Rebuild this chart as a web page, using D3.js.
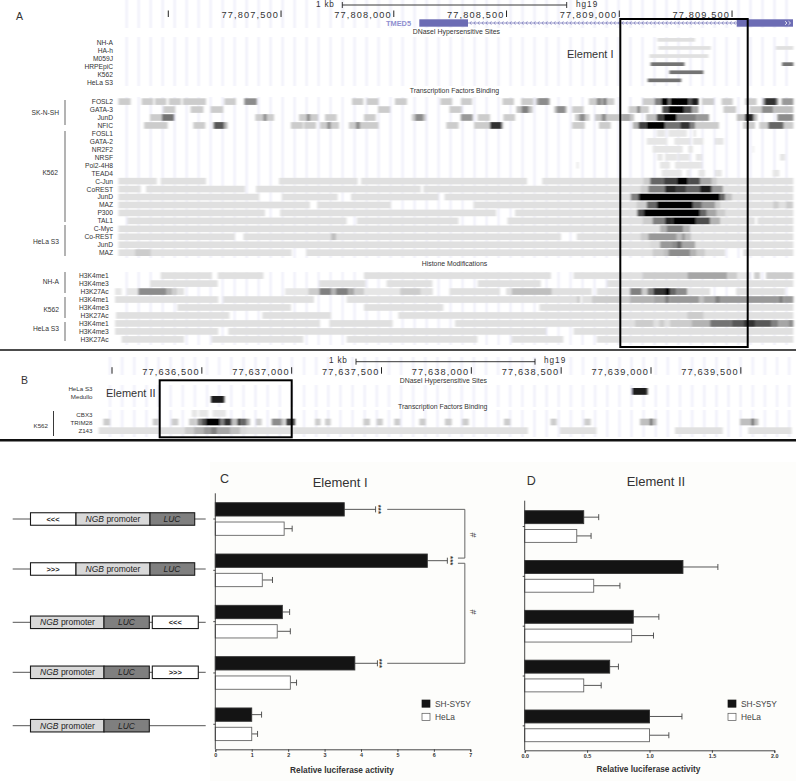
<!DOCTYPE html>
<html>
<head>
<meta charset="utf-8">
<script src="https://cdn.jsdelivr.net/npm/d3@7"></script>
<style>
  html, body { margin: 0; padding: 0; background: #fff; }
  svg { display: block; }
  text { font-family: "Liberation Sans", Arial, sans-serif; }
</style>
</head>
<body>
<svg id="chart" width="796" height="781"></svg>
<script>
'use strict';

// Browser tracks: segments are [start, end, score], start/end in bp from the window start
const windowA = 77806777;
const windowB = 77636000;
const ticksA = [77807000, 77807500, 77808000, 77808500, 77809000, 77809500];
const ticksB = [77636000, 77636500, 77637000, 77637500, 77638000, 77638500, 77639000, 77639500];

const dnaseLabels = ['NH-A', 'HA-h', 'M059J', 'HRPEpiC', 'K562', 'HeLa S3'];
const dnaseTracks = [
  [[2392, 2559, 0.12]],
  [[2396, 2629, 0.12], [2918, 2995, 0.12]],
  [[2357, 2618, 0.12]],
  [[2362, 2512, 0.55], [2945, 2995, 0.55]],
  [[2445, 2596, 0.55]],
  [[2349, 2498, 0.55]]
];

const tfLabels = ['FOSL2', 'GATA-3', 'JunD', 'NFIC', 'FOSL1', 'GATA-2', 'NR2F2', 'NRSF', 'Pol2-4H8', 'TEAD4',
  'C-Jun', 'CoREST', 'JunD', 'MAZ', 'P300', 'TAL1', 'C-Myc', 'Co-REST', 'JunD', 'MAZ'];

const fosl2 = [[2, 56, .2], [105, 157, .2], [164, 215, .2], [225, 280, .2], [287, 390, .2], [472, 523, .2], [560, 616, .45],
  [1038, 1088, .2], [1103, 1155, .2], [1228, 1281, .2], [1430, 1482, .2], [1521, 1570, .2], [1705, 1756, .2], [1788, 1842, .2],
  [1854, 1915, .3], [1864, 1909, .45], [2088, 2201, .2], [2123, 2145, .45], [2150, 2167, .5], [2327, 2380, .2], [2380, 2410, .5],
  [2410, 2440, 1], [2440, 2450, .6], [2450, 2530, 1], [2530, 2545, .7], [2545, 2574, .9], [2589, 2643, .2], [2677, 2726, .2],
  [2781, 2832, .2], [2859, 2929, .35], [2868, 2920, .8], [2943, 2995, .4]];
const gata3 = [[201, 254, .2], [322, 379, .2], [411, 467, .2], [1153, 1206, .2], [1470, 1524, .2], [1767, 1838, .25], [1790, 1820, .5],
  [1935, 1990, .25], [1946, 1983, .45], [2014, 2065, .2], [2265, 2354, .2], [2303, 2315, .5], [2414, 2440, .7], [2440, 2510, 1],
  [2510, 2545, .7], [2545, 2574, .35], [2685, 2741, .2], [2800, 2855, .2], [2855, 2906, .45], [2906, 2995, .25]];
const junD1 = [[142, 195, .2], [195, 249, .55], [609, 692, .2], [645, 659, .45], [803, 887, .2], [837, 852, .45], [918, 970, .2],
  [1091, 1143, .2], [1303, 1366, .2], [1318, 1354, .45], [1520, 1573, .4], [1595, 1650, .2], [1709, 1761, .2], [2027, 2091, .2],
  [2046, 2071, .45], [2116, 2289, .22], [2145, 2164, .45], [2234, 2271, .35], [2342, 2389, .25], [2389, 2420, .75], [2420, 2478, 1],
  [2478, 2566, .5], [2566, 2621, .4], [2744, 2835, .25], [2781, 2818, .85], [2924, 2995, .45]];
const nfic = [[116, 220, .2], [334, 387, .2], [421, 485, .3], [426, 470, .65], [767, 821, .2], [825, 878, .2], [896, 980, .2], [928, 943, .45],
  [1024, 1155, .2], [1055, 1073, .45], [1456, 1510, .2], [1579, 1709, .2], [1650, 1702, .8], [2014, 2070, .2], [2133, 2185, .2],
  [2283, 2308, .3], [2308, 2345, .75], [2345, 2426, 1], [2426, 2493, .55], [2493, 2537, .8], [2537, 2559, .5], [2559, 2665, .2],
  [2772, 2825, .2], [2844, 2995, .2], [2884, 2951, .6]];
const fosl1 = [[2389, 2426, .1], [2441, 2522, .1], [2552, 2563, .1]];
const gata2 = [[2345, 2436, .1], [2467, 2537, .1], [2549, 2596, .1], [2648, 2685, .1]];
const nr2f2 = [[2371, 2504, .1], [2529, 2549, .1], [2815, 2820, .1]];
const nrsf = [[2392, 2415, .1], [2426, 2481, .1], [2487, 2534, .1], [2563, 2589, .1], [2936, 2958, .1]];
const pol2 = [[2404, 2448, .1], [2470, 2589, .1], [2034, 2042, .1]];
const tead4 = [[2411, 2500, .1], [2522, 2534, .1], [2574, 2603, .1], [2648, 2677, .1], [2903, 2933, .1]];
const cJun = [[2, 172, .12], [189, 390, .12], [714, 1063, .12], [1078, 1814, .12], [1881, 2995, .12],
  [2330, 2360, .2], [2360, 2419, .6], [2419, 2478, .75], [2478, 2529, 1], [2529, 2581, .7], [2581, 2633, .35], [2633, 2655, .2]];
const coRest = [[2, 101, .12], [124, 563, .12], [612, 1343, .12], [1354, 2995, .12],
  [2318, 2352, .2], [2352, 2426, .5], [2426, 2478, .85], [2478, 2522, .75], [2522, 2581, .6], [2581, 2633, .9], [2633, 2682, .4]];
const junD2 = [[2, 627, .12], [726, 974, .12], [1033, 1421, .12], [1448, 2995, .12],
  [2274, 2308, .5], [2308, 2670, 1], [2670, 2692, .6], [2692, 2722, .25]];
const maz1 = [[2, 851, .12], [883, 1211, .12], [1576, 2995, .12],
  [2300, 2345, .2], [2345, 2389, .6], [2389, 2552, 1], [2552, 2589, .6], [2589, 2648, .4], [2648, 2670, .2], [2906, 2929, .2], [2963, 2992, .2]];
const p300 = [[2, 652, .12], [719, 1677, .12], [1761, 2995, .12],
  [2303, 2330, .7], [2330, 2581, 1], [2581, 2611, .6], [2611, 2655, .35], [2655, 2692, .2]];
const tal1 = [[42, 1014, .12], [1059, 1510, .12], [1727, 2825, .12], [2835, 2995, .12],
  [2327, 2371, .2], [2371, 2426, .5], [2426, 2460, .85], [2460, 2566, 1], [2566, 2626, .7], [2626, 2670, .3]];
const cMyc = [[2, 2995, .12], [2404, 2433, .3], [2433, 2507, .5], [2507, 2537, .3]];
const coRest2 = [[2, 519, .12], [556, 1965, .12], [2034, 2995, .12], [945, 967, .25],
  [2318, 2352, .2], [2352, 2478, .4], [2478, 2500, .25], [2500, 2515, .4], [2515, 2540, .25]];
const junD3 = [[2, 2995, .12], [2360, 2404, .15], [2404, 2456, .4], [2456, 2478, .45], [2478, 2500, .6], [2500, 2559, .35]];
const maz2 = [[2, 770, .12], [834, 2692, .12], [2773, 2995, .12], [76, 145, .2],
  [2371, 2419, .2], [2419, 2441, .25], [2441, 2537, .45], [2537, 2566, .3], [2566, 2603, .2]];
const tfTracks = [fosl2, gata3, junD1, nfic, fosl1, gata2, nr2f2, nrsf, pol2, tead4,
  cJun, coRest, junD2, maz1, p300, tal1, cMyc, coRest2, junD3, maz2];

const histoneLabels = ['H3K4me1', 'H3K4me3', 'H3K27Ac', 'H3K4me1', 'H3K4me3', 'H3K27Ac', 'H3K4me1', 'H3K4me3', 'H3K27Ac'];
const nhaMe1 = [[189, 417, .12], [442, 645, .12], [1091, 1920, .12], [2020, 2241, .12], [2241, 2326, .12], [2326, 2525, .2],
  [2525, 2702, .35], [2702, 2747, .2], [2747, 2803, .1], [2821, 2847, .2], [2874, 2995, .2]];
const nhaMe3 = [[142, 442, .12], [893, 1097, .12], [1191, 1394, .12], [1595, 1875, .12], [2170, 2995, .12]];
const nhaAc = [[-13, 16, .1], [39, 90, .1], [90, 216, .45], [216, 241, .3], [241, 263, .2], [263, 293, .12],
  [741, 844, .1], [844, 893, .2], [893, 945, .5], [945, 967, .3], [967, 1022, .5], [1022, 1047, .35], [1047, 1091, .2], [1091, 1251, .1],
  [1251, 1343, .2], [1343, 1396, .12], [1470, 1694, .12], [1721, 1746, .12], [1746, 1924, .25], [1924, 2101, .12],
  [2123, 2271, .12], [2271, 2323, .5], [2323, 2348, .2], [2348, 2374, .5], [2374, 2426, .8], [2426, 2448, 1], [2448, 2475, .6],
  [2475, 2525, .45], [2525, 2626, .12], [2741, 2958, .12]];
const k562Me1 = [[-13, 445, .12], [467, 869, .12], [1014, 2034, .12], [2034, 2050, .2], [2057, 2101, .12], [2101, 2271, .2], [2271, 2374, .3],
  [2374, 2426, .35], [2426, 2445, .5], [2445, 2578, .4], [2578, 2596, .25], [2596, 2648, .35], [2648, 2670, .5], [2670, 2929, .4],
  [2929, 2951, .5], [2951, 2995, .4]];
const k562Me3 = [[263, 767, .12], [1091, 1443, .12], [1869, 2995, .12]];
const k562Ac = [[-9, 494, .12], [640, 945, .12], [1243, 2995, .12], [2525, 2596, .2]];
const helaMe1 = [[-13, 896, .12], [937, 1218, .12], [1495, 2995, .12], [2293, 2374, .2], [2401, 2422, .2], [2448, 2544, .2], [2544, 2626, .3],
  [2626, 2722, .55], [2722, 2773, .65], [2773, 2825, .8], [2825, 2899, .65], [2899, 2929, .5], [2929, 2973, .35], [2973, 2995, .45]];
const helaMe3 = [[-13, 445, .12], [489, 1898, .12], [2020, 2995, .12]];
const helaAc = [[16, 293, .12], [416, 822, .12], [1014, 1594, .12], [1746, 1975, .12], [2123, 2995, .12]];
const histoneTracks = [nhaMe1, nhaMe3, nhaAc, k562Me1, k562Me3, k562Ac, helaMe1, helaMe3, helaAc];

const dnaseBLabels = ['HeLa S3', 'Medullo'];
const dnaseBTracks = [[[2894, 2980, .9]], [[551, 625, .9]]];
const tfBLabels = ['CBX3', 'TRIM28', 'Z143'];
const cbx3 = [[444, 475, .1], [484, 536, .1], [560, 633, .1]];
const trim28 = [[-48, -11, .2], [227, 260, .2], [332, 369, .2], [429, 471, .2], [475, 499, .5], [499, 523, .7], [523, 601, 1], [601, 624, .5],
  [624, 666, .8], [666, 698, .25], [698, 716, .8], [716, 750, .6], [750, 768, .3], [802, 833, .2], [889, 945, .45], [945, 963, .2],
  [969, 1019, .75], [1130, 1161, .2], [1186, 1217, .2], [1399, 1436, .2], [1473, 1507, .2], [1571, 1603, .2], [1711, 1746, .2],
  [1853, 1891, .2], [1950, 1985, .2], [2182, 2217, .2], [2441, 2475, .2], [2629, 2664, .2], [2939, 3031, .25], [2994, 3007, .6],
  [3495, 3597, .25], [3560, 3573, .6]];
const z143 = [[-74, 2315, .12], [2493, 2697, .12], [3133, 3399, .12], [3541, 3783, .12], [406, 457, .2], [457, 509, .3], [509, 549, .4],
  [549, 586, .5], [586, 657, .35], [657, 713, .25], [713, 750, .15]];
const tfBTracks = [cbx3, trim28, z143];

// Luciferase panels
const constructs = ['rev5', 'fwd5', 'rev3', 'fwd3', 'none'];
const insertMarks = ['<<<', '>>>', '<<<', '>>>', ''];
const series = ['SH-SY5Y', 'HeLa'];

const elementIShsy = [3.54, 5.82, 1.84, 3.83, 1.0];
const elementIShsyErr = [0.86, 0.55, 0.20, 0.62, 0.27];
const elementIHela = [1.89, 1.29, 1.70, 2.06, 1.0];
const elementIHelaErr = [0.22, 0.28, 0.36, 0.17, 0.16];
const elementITicks = [0, 1, 2, 3, 4, 5, 6, 7];

const elementIIShsy = [0.473, 1.268, 0.87, 0.681, 1.0];
const elementIIShsyErr = [0.12, 0.28, 0.205, 0.07, 0.26];
const elementIIHela = [0.417, 0.553, 0.857, 0.473, 1.0];
const elementIIHelaErr = [0.115, 0.21, 0.175, 0.14, 0.155];
const elementIITicks = [0, 0.5, 1, 1.5, 2];

const svg = d3.select('#chart');
const fmt = d3.format(',');
const shade = d3.scaleLinear().domain([0, 1]).range(['#ffffff', '#000000']);

const xA = d3.scaleLinear().domain([0, 3000]).range([118, 794.5]);
const xB = d3.scaleLinear().domain([0, 3000]).range([112, 651]);

// the tracks in the figure are a soft bitmap, mostly smeared sideways
svg.append('defs').append('filter').attr('id', 'soft')
  .attr('x', '-1%').attr('y', '-1%').attr('width', '102%').attr('height', '102%')
  .append('feGaussianBlur').attr('stdDeviation', '0.9 0.35');

svg.append('rect').attr('x', 210).attr('y', 462).attr('width', 586).attr('height', 319).attr('fill', '#fdfdfb');

const label = (parent, x, y, text, size, anchor, color) => parent.append('text')
  .attr('x', x).attr('y', y).attr('dy', '0.35em')
  .attr('text-anchor', anchor || 'start')
  .attr('font-size', size).attr('fill', color || '#333')
  .text(text);

const drawGrid = (parent, x, start, step, spans) => {
  const rel = d3.range(start, x.invert(796), step);
  spans.forEach(([y0, y1]) => {
    parent.append('g').selectAll('line').data(rel).join('line')
      .attr('x1', d => x(d)).attr('x2', d => x(d))
      .attr('y1', y0).attr('y2', y1)
      .attr('stroke', '#dcdcf4').attr('stroke-width', 1);
  });
};

const drawRows = (parent, tracks, x, rowTop, height) => {
  tracks.forEach((segments, i) => {
    parent.append('g').selectAll('rect').data(segments).join('rect')
      .attr('x', d => x(d[0]))
      .attr('y', rowTop(i))
      .attr('width', d => x(d[1]) - x(d[0]))
      .attr('height', height)
      .attr('fill', d => shade(d[2]));
  });
};

const drawRuler = (parent, ticks, base, x, yMid, labelled) => {
  parent.selectAll('line.t').data(ticks).join('line').attr('class', 't')
    .attr('x1', d => x(d - base)).attr('x2', d => x(d - base))
    .attr('y1', yMid - 3.5).attr('y2', yMid + 3)
    .attr('stroke', '#222').attr('stroke-width', 1);
  parent.selectAll('text.t').data(ticks.filter(labelled)).join('text').attr('class', 't')
    .attr('x', d => x(d - base) - 2).attr('y', yMid + 0.6).attr('dy', '0.35em')
    .attr('text-anchor', 'end')
    .attr('font-family', '"DejaVu Sans Mono", monospace')
    .attr('font-size', 9.2).attr('letter-spacing', 1.15).attr('fill', '#333')
    .text(d => fmt(d));
};

const drawScaleBar = (parent, x0, x1, y, textX, endX) => {
  parent.append('path')
    .attr('d', `M${x0} ${y - 3}V${y + 3}M${x0} ${y}H${x1}M${x1} ${y - 3}V${y + 3}`)
    .attr('fill', 'none').attr('stroke', '#222').attr('stroke-width', 0.9);
  parent.append('text').attr('x', textX).attr('y', y - 1.2).attr('dy', '0.35em')
    .attr('font-family', '"DejaVu Sans Mono", monospace').attr('font-size', 8.2).attr('letter-spacing', 0.8).attr('fill', '#333')
    .text('1 kb');
  parent.append('text').attr('x', endX).attr('y', y - 1.2).attr('dy', '0.35em')
    .attr('font-family', '"DejaVu Sans Mono", monospace').attr('font-size', 8.2).attr('letter-spacing', 1).attr('fill', '#333')
    .text('hg19');
};

const sectionTitle = (parent, x, y, text) => parent.append('text')
  .attr('x', x).attr('y', y).attr('dy', '0.35em')
  .attr('font-family', '"Open Sans", sans-serif').attr('font-size', 6.9).attr('fill', '#333')
  .text(text);

const groupBar = (parent, x, y0, y1, color, width) => parent.append('line')
  .attr('x1', x).attr('x2', x).attr('y1', y0).attr('y2', y1)
  .attr('stroke', color).attr('stroke-width', width);

// Panel A
const panelA = svg.append('g');
const tracksA = panelA.append('g').attr('filter', 'url(#soft)');
drawGrid(tracksA, xA, 38.6, 53.2, [[0, 28], [37, 86], [97, 258], [272, 345]]);

const dnaseTop = d3.scaleLinear().domain([0, 5]).range([38, 78.5]);
const tfTop = d3.scaleLinear().domain([0, 19]).range([98.3, 249.4]);
const histoneTop = d3.scaleLinear().domain([0, 8]).range([272.3, 336.1]);
drawRows(tracksA, dnaseTracks, xA, dnaseTop, 3.7);
drawRows(tracksA, tfTracks, xA, tfTop, 6.6);
drawRows(tracksA, histoneTracks, xA, histoneTop, 6.6);

// gene model
const geneColor = '#6c6cb4';
const geneY = 23;
panelA.append('line').attr('x1', 468).attr('x2', 737).attr('y1', geneY).attr('y2', geneY)
  .attr('stroke', geneColor).attr('stroke-width', 0.7);
panelA.append('path')
  .attr('d', d3.range(470, 736, 4).map(x => `M${x + 1.5} ${geneY - 1.8}L${x} ${geneY}L${x + 1.5} ${geneY + 1.8}`).join(''))
  .attr('fill', 'none').attr('stroke', geneColor).attr('stroke-width', 0.6);
panelA.append('rect').attr('x', 419.3).attr('y', 19.3).attr('width', 48.7).attr('height', 7.4).attr('fill', geneColor);
panelA.append('rect').attr('x', 736.7).attr('y', 19.3).attr('width', 56.3).attr('height', 7.4).attr('fill', geneColor);
panelA.append('path').attr('d', `M785 ${geneY - 1.8}l2 1.8l-2 1.8M788.5 ${geneY - 1.8}l2 1.8l-2 1.8`)
  .attr('fill', 'none').attr('stroke', '#fff').attr('stroke-width', 0.8);

drawRuler(panelA.append('g'), ticksA, windowA, xA, 14, d => d !== 77807000);
drawScaleBar(panelA, 342.3, 566.7, 5, 316, 576);
label(panelA, 386, 23, 'TMED5', 7.4, 'start', '#8f8fd0').attr('font-family', '"DejaVu Sans Mono", monospace').attr('font-weight', 700);

sectionTitle(panelA, 412.7, 32, 'DNaseI Hypersensitive Sites');
sectionTitle(panelA, 409.7, 91, 'Transcription Factors Binding');
sectionTitle(panelA, 421.7, 263.5, 'Histone Modifications');

dnaseLabels.forEach((d, i) => label(panelA, 113, 42.3 + 8 * i, d, 6.7, 'end'));
tfLabels.forEach((d, i) => label(panelA, 113, tfTop(i) + 3.4, d, 6.7, 'end'));
histoneLabels.forEach((d, i) => label(panelA, 108.7, histoneTop(i) + 3.4, d, 6.7, 'end'));

label(panelA, 59, 113, 'SK-N-SH', 6.7, 'end');
label(panelA, 58, 172.6, 'K562', 6.7, 'end');
label(panelA, 59, 242, 'HeLa S3', 6.7, 'end');
label(panelA, 59, 282, 'NH-A', 6.7, 'end');
label(panelA, 59, 309.5, 'K562', 6.7, 'end');
label(panelA, 59, 329, 'HeLa S3', 6.7, 'end');
[[100, 125], [131, 222], [225, 256], [272, 293], [297, 318], [322, 341]]
  .forEach(([y0, y1]) => groupBar(panelA, 65, y0, y1, '#8a8a8a', 1.3));

label(panelA, 16, 16, 'A', 10.5);
label(panelA, 567, 54, 'Element I', 11);
panelA.append('rect').attr('x', 620.3).attr('y', 19).attr('width', 127.4).attr('height', 328)
  .attr('fill', 'none').attr('stroke', '#000').attr('stroke-width', 2);

// Panel B
const panelB = svg.append('g');
const tracksB = panelB.append('g').attr('filter', 'url(#soft)');
drawGrid(tracksB, xB, -11, 67.5, [[357, 375], [385, 407], [410, 437]]);
const dnaseBTop = d3.scaleLinear().domain([0, 1]).range([388, 396]);
const tfBTop = d3.scaleLinear().domain([0, 2]).range([410, 427.3]);
drawRows(tracksB, dnaseBTracks, xB, dnaseBTop, 6.8);
drawRows(tracksB, tfBTracks, xB, tfBTop, 6.7);

drawRuler(panelB.append('g'), ticksB, windowB, xB, 370.7, d => d !== 77636000);
drawScaleBar(panelB, 356, 535, 361.7, 329, 544);
sectionTitle(panelB, 399.7, 380.7, 'DNaseI Hypersensitive Sites');
sectionTitle(panelB, 398, 406.7, 'Transcription Factors Binding');
dnaseBLabels.forEach((d, i) => label(panelB, 92.5, 389.3 + 8 * i, d, 6.2, 'end'));
tfBLabels.forEach((d, i) => label(panelB, 92.5, 415 + 7.85 * i, d, 6.2, 'end'));
label(panelB, 48, 425.7, 'K562', 6.2, 'end');
groupBar(panelB, 53.5, 411, 436, '#222', 0.9);
label(panelB, 21, 380.7, 'B', 10.5);
label(panelB, 106, 392.7, 'Element II', 11);
panelB.append('rect').attr('x', 159.7).attr('y', 380.3).attr('width', 132).attr('height', 57)
  .attr('fill', 'none').attr('stroke', '#000').attr('stroke-width', 2);

// section rules
svg.append('line').attr('x1', 0).attr('x2', 796).attr('y1', 350).attr('y2', 350).attr('stroke', '#111').attr('stroke-width', 1.6);
svg.append('line').attr('x1', 0).attr('x2', 796).attr('y1', 440.3).attr('y2', 440.3).attr('stroke', '#111').attr('stroke-width', 2.4);

// Reporter constructs
const panelCon = svg.append('g');
const conY = d3.scaleOrdinal().domain(constructs).range([519, 569, 622.3, 672.3, 725.7]);
const conH = 12.5;
const boxPart = (parent, x0, x1, y, fill) => parent.append('rect')
  .attr('x', x0).attr('y', y - conH / 2).attr('width', x1 - x0).attr('height', conH)
  .attr('fill', fill).attr('stroke', '#1a1a1a').attr('stroke-width', 1.1);

const promoterText = (parent, cx, y) => {
  const t = parent.append('text').attr('x', cx).attr('y', y).attr('dy', '0.35em')
    .attr('text-anchor', 'middle').attr('font-family', '"Open Sans", sans-serif').attr('font-size', 8.5).attr('fill', '#222');
  t.append('tspan').attr('font-style', 'italic').text('NGB');
  t.append('tspan').text(' promoter');
};
const lucText = (parent, cx, y) => parent.append('text').attr('x', cx).attr('y', y).attr('dy', '0.35em')
  .attr('text-anchor', 'middle').attr('font-family', '"Open Sans", sans-serif')
  .attr('font-style', 'italic').attr('font-size', 8.5).attr('fill', '#222').text('LUC');
const markText = (parent, cx, y, s) => parent.append('text').attr('x', cx).attr('y', y).attr('dy', '0.35em')
  .attr('text-anchor', 'middle').attr('font-family', '"Open Sans", sans-serif').attr('font-weight', 600)
  .attr('font-size', 7.5).attr('fill', '#222').text(s);

constructs.forEach((c, i) => {
  const y = conY(c);
  const upstream = i < 2;
  panelCon.append('line').attr('x1', 12.7).attr('x2', 205.7).attr('y1', y).attr('y2', y)
    .attr('stroke', '#555').attr('stroke-width', 1);
  if (upstream) {
    boxPart(panelCon, 30.5, 76, y, '#fff');
    boxPart(panelCon, 76, 150, y, '#d9d9d9');
    boxPart(panelCon, 150, 194.7, y, '#7f7f7f');
    markText(panelCon, 53, y, insertMarks[i]);
    promoterText(panelCon, 113, y);
    lucText(panelCon, 172, y);
  } else {
    boxPart(panelCon, 30.5, 104, y, '#d9d9d9');
    boxPart(panelCon, 104, 149.3, y, '#7f7f7f');
    promoterText(panelCon, 67.5, y);
    lucText(panelCon, 126.5, y);
    if (insertMarks[i]) {
      boxPart(panelCon, 152.3, 198.3, y, '#fff');
      markText(panelCon, 175.3, y, insertMarks[i]);
    }
  }
});

// Bar panels
const drawBars = (cfg) => {
  const g = svg.append('g');
  const x = d3.scaleLinear().domain(cfg.domain).range(cfg.xRange);
  const y0 = d3.scaleBand().domain(constructs).range(cfg.yRange).paddingInner(0.364);
  const y1 = d3.scaleBand().domain(series).range([0, y0.bandwidth()]).paddingInner(0.31);

  series.forEach((s, si) => {
    const vals = cfg.values[si];
    const errs = cfg.errors[si];
    const color = si === 0 ? '#141414' : '#fff';
    const rows = constructs.map((c, i) => ({ c, v: vals[i], e: errs[i] }));
    const sg = g.append('g').attr('transform', `translate(0,${y1(s)})`);
    sg.selectAll('line.err').data(rows).join('line').attr('class', 'err')
      .attr('x1', d => x(d.v)).attr('x2', d => x(d.v + d.e))
      .attr('y1', d => y0(d.c) + y1.bandwidth() / 2).attr('y2', d => y0(d.c) + y1.bandwidth() / 2)
      .attr('stroke', '#444').attr('stroke-width', 0.9);
    sg.selectAll('line.cap').data(rows).join('line').attr('class', 'cap')
      .attr('x1', d => x(d.v + d.e)).attr('x2', d => x(d.v + d.e))
      .attr('y1', d => y0(d.c) + y1.bandwidth() / 2 - 3).attr('y2', d => y0(d.c) + y1.bandwidth() / 2 + 3)
      .attr('stroke', '#444').attr('stroke-width', 0.9);
    sg.selectAll('rect').data(rows).join('rect')
      .attr('x', x(0))
      .attr('y', d => y0(d.c))
      .attr('width', d => x(d.v) - x(0))
      .attr('height', y1.bandwidth())
      .attr('fill', color)
      .attr('stroke', si === 0 ? '#333' : '#666').attr('stroke-width', 0.9);
  });

  const xAxis = d3.axisBottom(x).tickValues(cfg.ticks).tickFormat(cfg.format).tickSize(2.5).tickPadding(1.5);
  const ax = g.append('g').attr('transform', `translate(0,${cfg.baseline})`).call(xAxis);
  ax.selectAll('text').attr('font-size', 5.4).attr('font-weight', 700).attr('fill', '#333')
    .attr('font-family', '"Liberation Sans", Arial, sans-serif');
  ax.selectAll('line,path').attr('stroke', '#333').attr('stroke-width', 0.9);

  const yAxis = d3.axisLeft(y0).tickFormat('').tickSize(2);
  const ay = g.append('g').attr('transform', `translate(${x(0)},0)`).call(yAxis);
  ay.select('.domain').attr('d', `M0 ${cfg.axisTop}V${cfg.baseline}`);
  ay.selectAll('line,path').attr('stroke', '#333').attr('stroke-width', 0.9);

  label(g, cfg.titleX, cfg.titleY, cfg.title, 13, 'start', '#333');
  label(g, cfg.letterX, cfg.letterY, cfg.letter, 12.5, 'start', '#333');
  g.append('text').attr('x', cfg.axisLabelX).attr('y', cfg.axisLabelY).attr('dy', '0.35em')
    .attr('text-anchor', 'middle').attr('font-size', 8.3).attr('font-weight', 700).attr('fill', '#333')
    .text('Relative luciferase activity');

  series.forEach((s, si) => {
    const ly = 703.7 + si * 13.3;
    g.append('rect').attr('x', cfg.legendX).attr('y', ly - 3.7).attr('width', 8).attr('height', 7.2)
      .attr('fill', si === 0 ? '#141414' : '#fff').attr('stroke', si === 0 ? '#141414' : '#555').attr('stroke-width', 0.7);
    label(g, cfg.legendX + 13, ly, s, 8.4, 'start', '#444');
  });
  return { g, x, y0, y1 };
};

const c = drawBars({
  domain: [0, 7], xRange: [215.3, 470.3], yRange: [502.7, 740.6], baseline: 749.3, axisTop: 493.3,
  values: [elementIShsy, elementIHela], errors: [elementIShsyErr, elementIHelaErr],
  ticks: elementITicks, format: d3.format('d'),
  title: 'Element I', titleX: 312.7, titleY: 482, letter: 'C', letterX: 220, letterY: 478.7,
  axisLabelX: 342, axisLabelY: 770.3, legendX: 422
});

drawBars({
  domain: [0, 2], xRange: [524.7, 774.3], yRange: [510.7, 741.7], baseline: 750.3, axisTop: 500.7,
  values: [elementIIShsy, elementIIHela], errors: [elementIIShsyErr, elementIIHelaErr],
  ticks: elementIITicks, format: d3.format('.1f'),
  title: 'Element II', titleX: 626.7, titleY: 481.7, letter: 'D', letterX: 526.7, letterY: 480.7,
  axisLabelX: 648.5, axisLabelY: 768.7, legendX: 728
});

// significance marks on panel C
const sigConstructs = ['rev5', 'fwd5', 'fwd3'];
const sigPositions = [4.55, 6.52, 4.58];
const blackMid = d => c.y0(d) + c.y1('SH-SY5Y') + c.y1.bandwidth() / 2;
sigConstructs.forEach((d, i) => {
  c.g.append('text')
    .attr('transform', `translate(${c.x(sigPositions[i])},${blackMid(d)}) rotate(90)`)
    .attr('text-anchor', 'middle').attr('dy', '0.62em')
    .attr('font-size', 7.5).attr('font-weight', 700).attr('fill', '#333')
    .attr('letter-spacing', 0.2)
    .text('***');
});
const bracket = d3.path();
const bx = c.x(6.85);
const by1 = blackMid('rev5');
const by2 = blackMid('fwd5');
const by3 = blackMid('fwd3');
bracket.moveTo(c.x(4.72), by1);
bracket.lineTo(bx, by1);
bracket.lineTo(bx, by2 - 2.6);
bracket.lineTo(c.x(6.66), by2 - 2.6);
bracket.moveTo(c.x(6.66), by2 + 2.6);
bracket.lineTo(bx, by2 + 2.6);
bracket.lineTo(bx, by3);
bracket.lineTo(c.x(4.72), by3);
c.g.append('path').attr('d', bracket.toString()).attr('fill', 'none').attr('stroke', '#555').attr('stroke-width', 0.9);
[(by1 + by2) / 2, (by2 + by3) / 2].forEach((y) => {
  c.g.append('text')
    .attr('transform', `translate(${bx + 8},${y}) rotate(90)`)
    .attr('text-anchor', 'middle').attr('dy', '0.35em')
    .attr('font-size', 9).attr('fill', '#444').text('#');
});
</script>
</body>
</html>
